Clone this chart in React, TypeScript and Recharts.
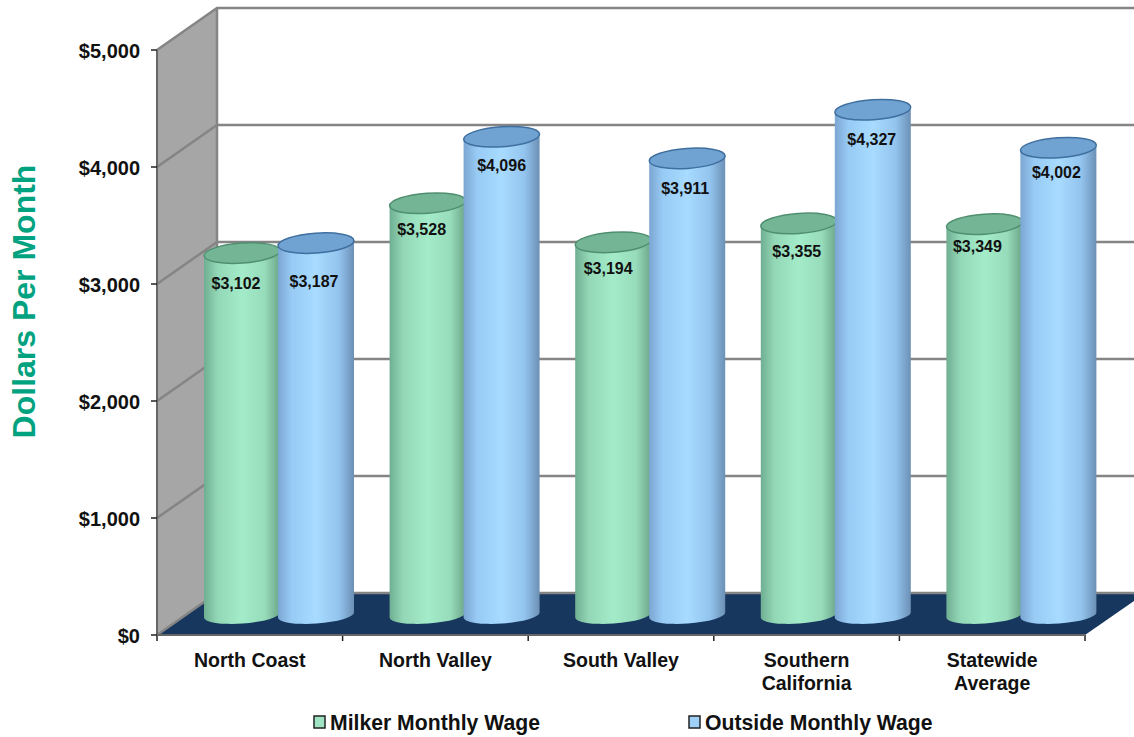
import { BarChart, Bar, XAxis, YAxis, LabelList, Customized } from "recharts";

const categories = ["North Coast", "North Valley", "South Valley", "Southern\nCalifornia", "Statewide\nAverage"];
const milkerWage = [3102, 3528, 3194, 3355, 3349];
const outsideWage = [3187, 4096, 3911, 4327, 4002];
const yTicks = [0, 1000, 2000, 3000, 4000, 5000];

// hand placed offsets of the value labels, the original has them a bit uneven
const milkerNudge = [[-6, 30], [-6, 26], [-5, 26], [-2, 28], [-7, 22]];
const outsideNudge = [[-2, 38], [0, 29], [-2, 30], [-1, 30], [-2, 25]];

const data = categories.map((name, i) => ({
  name,
  milker: milkerWage[i],
  outside: outsideWage[i],
}));

const W = 1134;
const H = 737;
const LEFT = 157;
const RIGHT = 1085;
const TOP = 50;
const BOTTOM = 635;
const DEPTH_X = 60;
const DEPTH_Y = 42;
const BAR_DX = 29;
const BAR_DY = -19;
const TILT = -4;
const FONT = '"Liberation Sans", Arial, sans-serif';

const wageY = (v: number) => BOTTOM - (v / 5000) * (BOTTOM - TOP);

function Room() {
  const backX = LEFT + DEPTH_X;
  const floorY = BOTTOM - DEPTH_Y;
  const step = (RIGHT - LEFT) / categories.length;
  return (
    <g>
      <polygon
        points={`${LEFT},${TOP} ${backX},${TOP - DEPTH_Y} ${backX},${floorY} ${LEFT},${BOTTOM}`}
        fill="#a6a6a6"
      />
      <polygon
        points={`${LEFT},${BOTTOM} ${backX},${floorY} ${W},${floorY} ${W},601 ${RIGHT},${BOTTOM}`}
        fill="#17375e"
      />
      {yTicks.map((t) => (
        <polyline
          key={t}
          points={`${LEFT},${wageY(t)} ${backX},${wageY(t) - DEPTH_Y} ${W},${wageY(t) - DEPTH_Y}`}
          fill="none"
          stroke="#858585"
          strokeWidth={2.5}
        />
      ))}
      <line x1={backX} y1={TOP - DEPTH_Y} x2={backX} y2={floorY} stroke="#858585" strokeWidth={2.5} />
      {categories.concat("").map((_, i) => (
        <line
          key={i}
          x1={LEFT + i * step}
          y1={BOTTOM}
          x2={LEFT + i * step}
          y2={BOTTOM + 6}
          stroke="#222"
          strokeWidth={1.5}
        />
      ))}
    </g>
  );
}

function ChartLegend() {
  const items = [
    { x: 314, fill: "#9fe3c2", label: "Milker Monthly Wage" },
    { x: 689, fill: "#9fd0f7", label: "Outside Monthly Wage" },
  ];
  return (
    <g>
      {items.map((it) => (
        <g key={it.label}>
          <rect x={it.x} y={716} width={11} height={12} fill={it.fill} stroke="#222" strokeWidth={1.5} />
          <text x={it.x + 16} y={730} fontFamily={FONT} fontWeight="bold" fontSize={21.2} fill="#111">
            {it.label}
          </text>
        </g>
      ))}
    </g>
  );
}

function Cylinder(props: any) {
  const { x, y, width, height, grad, top, edge } = props;
  const rx = width / 2;
  const ry = 10;
  const left = x + BAR_DX;
  const right = left + width;
  const topY = y + BAR_DY;
  const baseY = y + height + BAR_DY - 1;
  // ends of the tilted ellipse sit a little lower on the left, higher on the right
  const lift = rx * Math.sin((-TILT * Math.PI) / 180);
  return (
    <g>
      <path
        d={`M${left},${topY + lift} L${left},${baseY + lift} A${rx},${ry - 1.5} ${TILT} 0 0 ${right},${baseY - lift} L${right},${topY - lift} Z`}
        fill={`url(#${grad})`}
      />
      <ellipse
        cx={left + rx}
        cy={topY}
        rx={rx}
        ry={ry}
        transform={`rotate(${TILT} ${left + rx} ${topY})`}
        fill={top}
        stroke={edge}
        strokeWidth={1.5}
      />
    </g>
  );
}

function valueLabel(nudge: number[][]) {
  return (props: any) => {
    const { x, y, width, value, index } = props;
    const [dx, dy] = nudge[index];
    return (
      <text
        x={x + BAR_DX + width / 2 + dx}
        y={y + BAR_DY + dy}
        textAnchor="middle"
        dominantBaseline="central"
        fontFamily={FONT}
        fontWeight="bold"
        fontSize={16}
        fill="#111"
      >
        {"$" + Number(value).toLocaleString("en-US")}
      </text>
    );
  };
}

function CategoryTick(props: any) {
  const { x, y, payload } = props;
  const lines = String(payload.value).split("\n");
  return (
    <text x={x} textAnchor="middle" fontFamily={FONT} fontWeight="bold" fontSize={19.5} fill="#111">
      {lines.map((line, i) => (
        <tspan key={line} x={x} y={y + 24 + i * 23}>
          {line}
        </tspan>
      ))}
    </text>
  );
}

export default function App() {
  return (
    <div style={{ width: W, height: H }}>
      <style>{"html,body{margin:0;padding:0}"}</style>
      <BarChart
        width={W}
        height={H}
        data={data}
        barSize={76}
        barGap={-2}
        margin={{ top: TOP, right: W - RIGHT, bottom: 0, left: 0 }}
      >
        <defs>
          <linearGradient id="greenWall" x1="0" y1="0" x2="1" y2="0">
            <stop offset="0%" stopColor="#6fae92" />
            <stop offset="18%" stopColor="#93d8b6" />
            <stop offset="50%" stopColor="#a3ebc9" />
            <stop offset="80%" stopColor="#97dcbb" />
            <stop offset="100%" stopColor="#6ba588" />
          </linearGradient>
          <linearGradient id="blueWall" x1="0" y1="0" x2="1" y2="0">
            <stop offset="0%" stopColor="#7ba6d2" />
            <stop offset="18%" stopColor="#98cbf5" />
            <stop offset="50%" stopColor="#a8dbff" />
            <stop offset="80%" stopColor="#93c4ee" />
            <stop offset="100%" stopColor="#6c90b6" />
          </linearGradient>
        </defs>
        <Customized component={Room} />
        <XAxis
          dataKey="name"
          height={H - BOTTOM}
          interval={0}
          tick={<CategoryTick />}
          tickLine={false}
          axisLine={{ stroke: "#666", strokeWidth: 2 }}
        />
        <YAxis
          width={LEFT}
          domain={[0, 5000]}
          ticks={yTicks}
          tickFormatter={(v: number) => "$" + v.toLocaleString("en-US")}
          tick={{ fontFamily: FONT, fontWeight: "bold", fontSize: 20, fill: "#111", dy: 1 }}
          tickLine={{ stroke: "#222", strokeWidth: 1.5 }}
          tickSize={6}
          tickMargin={11}
          axisLine={{ stroke: "#666", strokeWidth: 2 }}
          label={{
            value: "Dollars Per Month",
            angle: -90,
            position: "center",
            dx: -55,
            dy: -41,
            style: { fontFamily: FONT, fontWeight: "bold", fontSize: 32, fill: "#00a27f" },
          }}
        />
        <Bar
          dataKey="milker"
          isAnimationActive={false}
          shape={<Cylinder grad="greenWall" top="#74b595" edge="#4f8f70" />}
        >
          <LabelList dataKey="milker" content={valueLabel(milkerNudge)} />
        </Bar>
        <Bar
          dataKey="outside"
          isAnimationActive={false}
          shape={<Cylinder grad="blueWall" top="#70a2d2" edge="#3f6f9f" />}
        >
          <LabelList dataKey="outside" content={valueLabel(outsideNudge)} />
        </Bar>
        <Customized component={ChartLegend} />
      </BarChart>
    </div>
  );
}
